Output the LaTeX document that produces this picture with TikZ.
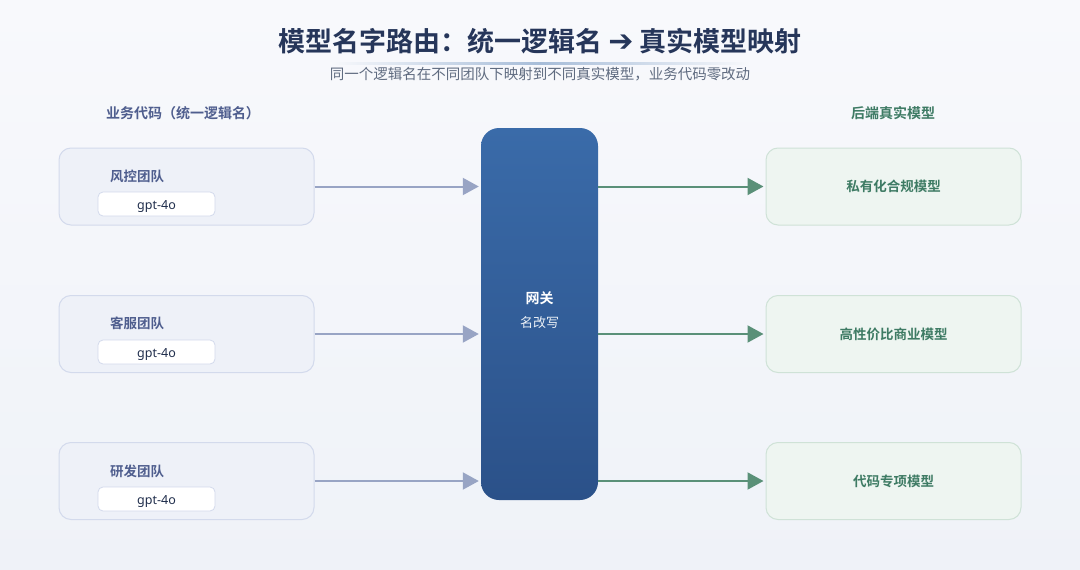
\documentclass[tikz,border=0pt]{standalone}
\usepackage{fontspec}
\setmainfont{Noto Sans CJK SC}[BoldFont={Noto Sans CJK SC Bold}]
\newfontfamily\arrowfont{DejaVu Sans}[BoldFont={DejaVu Sans Bold}]
\newfontfamily\latinfont{Noto Sans}
\usetikzlibrary{arrows.meta}
\definecolor{bgtop}{HTML}{F8F9FC}
\definecolor{bgbot}{HTML}{EFF2F8}
\definecolor{titlec}{HTML}{26365A}
\definecolor{subc}{HTML}{5F6B80}
\definecolor{leftc}{HTML}{4F5E8E}
\definecolor{lfill}{HTML}{EEF1F8}
\definecolor{lline}{HTML}{D3DAEC}
\definecolor{rfill}{HTML}{EEF5F1}
\definecolor{rline}{HTML}{CFE2D7}
\definecolor{greenc}{HTML}{3E7B64}
\definecolor{larr}{HTML}{98A4C4}
\definecolor{rarr}{HTML}{5A9078}
\definecolor{gwtop}{HTML}{3A6BA9}
\definecolor{gwbot}{HTML}{2B5189}
\tikzset{
  lbox/.style={draw=lline, line width=1pt, fill=lfill, rounded corners=12pt, minimum width=255pt, minimum height=77pt, inner sep=0pt},
  rbox/.style={draw=rline, line width=1pt, fill=rfill, rounded corners=12pt, minimum width=255pt, minimum height=77pt, inner sep=0pt, font=\bfseries\fontsize{13.5}{16}\selectfont, text=greenc},
  team/.style={anchor=west, font=\bfseries\fontsize{13.5}{16}\selectfont, text=leftc, inner sep=0pt},
  tag/.style={draw=lline, line width=0.8pt, fill=white, rounded corners=5pt, minimum width=117pt, minimum height=24pt, inner sep=0pt, text height=9pt, text depth=3pt, font=\latinfont\fontsize{12.5}{15}\selectfont, text=titlec!85!black},
  larrow/.style={draw=larr, line width=2pt, -{Triangle[length=16pt,width=17pt]}},
  rarrow/.style={draw=rarr, line width=2pt, -{Triangle[length=16pt,width=17pt]}},
  hdr/.style={font=\bfseries\fontsize{14}{17}\selectfont, inner sep=0pt}
}
\newcommand{\gptname}{\raisebox{-2.5pt}{gpt-4o}}
\begin{document}
\begin{tikzpicture}[x=1pt,y=-1pt]
\useasboundingbox (0,0) rectangle (1080,570);
\shade[top color=bgtop, bottom color=bgbot] (0,0) rectangle (1080,570);
% title
\node[font=\bfseries\fontsize{27}{32}\selectfont, text=titlec, inner sep=0pt] (title) at (540,41) {模型名字路由：统一逻辑名 {\arrowfont\fontsize{30}{32}\selectfont ➔} 真实模型映射};
\shade[left color=bgtop, right color=bgtop, middle color=gwtop!45!white] (330,62) rectangle (750,64.5);
\node[font=\fontsize{14.5}{17}\selectfont, text=subc, inner sep=0pt] (sub) at (540,74) {同一个逻辑名在不同团队下映射到不同真实模型，业务代码零改动};
% headers
\node[hdr, text=leftc] (lh) at (183,113) {业务代码（统一逻辑名）};
\node[hdr, text=greenc] (rh) at (893,113) {后端真实模型};
% gateway
\node[top color=gwtop, bottom color=gwbot, rounded corners=18pt, minimum width=117pt, minimum height=372pt, inner sep=0pt] (gw) at (539.5,314) {};
\node[font=\bfseries\fontsize{14}{17}\selectfont, text=white, inner sep=0pt] (gwt) at (539.5,298) {网关};
\node[font=\fontsize{13}{16}\selectfont, text=white!90!gwtop, inner sep=0pt] (gws) at (539.5,323) {名改写};
% left boxes
\node[lbox] (l1) at (186.5,186.5) {};
\node[lbox] (l2) at (186.5,334) {};
\node[lbox] (l3) at (186.5,481) {};
\node[team] (t1) at (110,176) {风控团队};
\node[team] (t2) at (110,323) {客服团队};
\node[team] (t3) at (110,471) {研发团队};
\node[tag] (g1) at (156.5,204) {\gptname};
\node[tag] (g2) at (156.5,352) {\gptname};
\node[tag] (g3) at (156.5,499) {\gptname};
% right boxes
\node[rbox] (r1) at (893.5,186.5) {私有化合规模型};
\node[rbox] (r2) at (893.5,334) {高性价比商业模型};
\node[rbox] (r3) at (893.5,481) {代码专项模型};
% arrows
\draw[larrow] (l1.east) -- ([xshift=-2pt]l1.east -| gw.west);
\draw[larrow] (l2.east) -- ([xshift=-2pt]l2.east -| gw.west);
\draw[larrow] (l3.east) -- ([xshift=-2pt]l3.east -| gw.west);
\draw[rarrow] (r1.west -| gw.east) -- ([xshift=-2pt]r1.west);
\draw[rarrow] (r2.west -| gw.east) -- ([xshift=-2pt]r2.west);
\draw[rarrow] (r3.west -| gw.east) -- ([xshift=-2pt]r3.west);
\end{tikzpicture}
\end{document}
